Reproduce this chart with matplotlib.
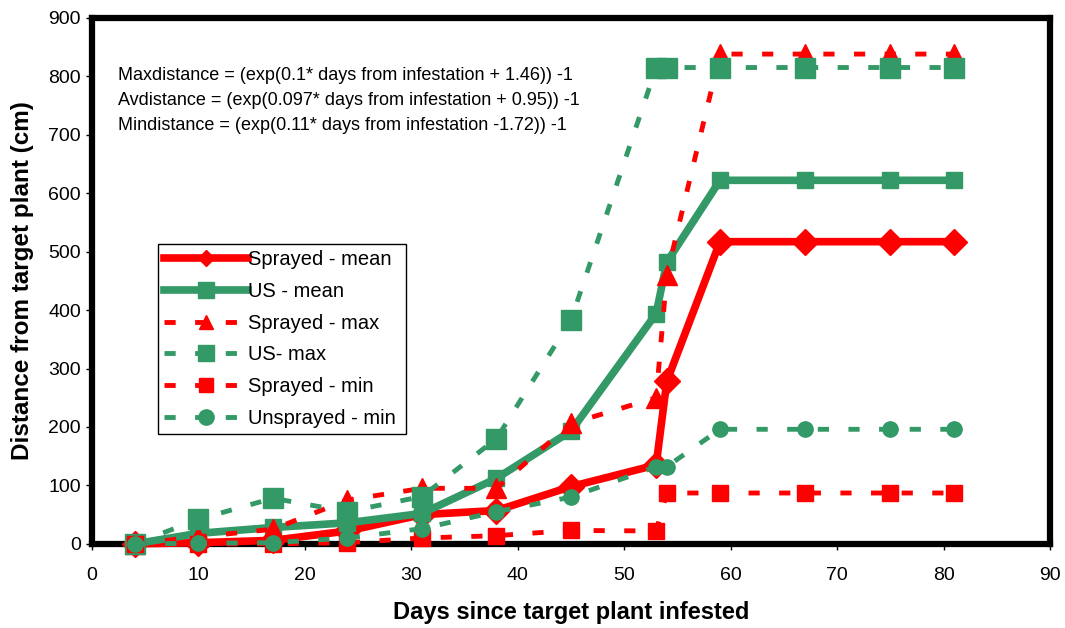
import matplotlib
matplotlib.use("Agg")
import matplotlib.pyplot as plt

plt.rcParams['font.family'] = ['Liberation Sans', 'DejaVu Sans']

# days since target plant infested
days = [4, 10, 17, 24, 31, 38, 45, 53, 54, 59, 67, 75, 81]

sprayed_mean = [0, 2, 6, 22, 50, 57, 98, 135, 278, 517, 517, 517, 517]
us_mean = [0, 18, 28, 36, 52, 112, 193, 394, 482, 622, 622, 622, 622]
sprayed_max = [0, 12, 25, 75, 95, 95, 206, 250, 460, 838, 838, 838, 838]
us_max = [0, 42, 78, 55, 81, 180, 383, 815, 815, 815, 815, 815, 815]
sprayed_min = [0, 0, 0, 2, 10, 14, 23, 22, 87, 87, 87, 87, 87]
unsprayed_min = [0, 1, 2, 10, 26, 55, 80, 132, 132, 196, 196, 196, 196]

equations = [
    "Maxdistance = (exp(0.1* days from infestation + 1.46)) -1",
    "Avdistance = (exp(0.097* days from infestation + 0.95)) -1",
    "Mindistance = (exp(0.11* days from infestation -1.72)) -1",
]

RED = '#ff0000'
GREEN = '#339966'
dash = (2.3, 4.0)

fig = plt.figure(figsize=(10.65, 6.28), dpi=100)
ax = fig.add_axes([0.0864, 0.134, 0.8995, 0.8376])

ax.plot(days, sprayed_mean, color=RED, lw=5.5, marker='D', ms=13,
        mec=RED, solid_joinstyle='miter', clip_on=False, label='Sprayed - mean')
ax.plot(days, us_mean, color=GREEN, lw=5.5, marker='s', ms=11,
        mec=GREEN, solid_joinstyle='miter', clip_on=False, label='US - mean')
ax.plot(days, sprayed_max, color=RED, lw=3.5, dashes=dash, marker='^', ms=14,
        mec=RED, clip_on=False, label='Sprayed - max')
ax.plot(days, us_max, color=GREEN, lw=3.5, dashes=dash, marker='s', ms=14,
        mec=GREEN, clip_on=False, label='US- max')
ax.plot(days, sprayed_min, color=RED, lw=3.5, dashes=dash, marker='s', ms=11,
        mec=RED, clip_on=False, label='Sprayed - min')
ax.plot(days, unsprayed_min, color=GREEN, lw=3.5, dashes=dash, marker='o', ms=11,
        mec=GREEN, clip_on=False, label='Unsprayed - min')

ax.set_xlim(0, 90)
ax.set_ylim(0, 900)
ax.set_xticks(range(0, 91, 10))
ax.set_yticks(range(0, 901, 100))
ax.tick_params(direction='out', length=4, width=1, labelsize=14)
ax.tick_params(axis='x', pad=13)
ax.tick_params(axis='y', pad=4)
for s in ax.spines.values():
    s.set_linewidth(4.5)
    s.set_color('black')
    s.set_zorder(1)

ax.set_xlabel('Days since target plant infested', fontsize=17, fontweight='bold', labelpad=12)
ax.set_ylabel('Distance from target plant (cm)', fontsize=17.5, fontweight='bold', labelpad=10)

for i, eq in enumerate(equations):
    ax.text(0.027, 0.89 - i * 0.0475, eq, transform=ax.transAxes,
            fontsize=13, va='center', ha='left')

leg = ax.legend(loc='lower left', bbox_to_anchor=(0.069, 0.209, 0.259, 0.363),
                mode='expand', fontsize=14.5, numpoints=1, handlelength=4.2,
                handletextpad=0.0, labelspacing=0.64, borderpad=0.28,
                borderaxespad=0, fancybox=False, framealpha=1)
leg.get_frame().set_edgecolor('black')
leg.get_frame().set_linewidth(1)
for h, ms in zip(leg.legend_handles, [8, 11, 10, 11, 10, 11]):
    h.set_markersize(ms)

fig.savefig('out.png', dpi=100)
